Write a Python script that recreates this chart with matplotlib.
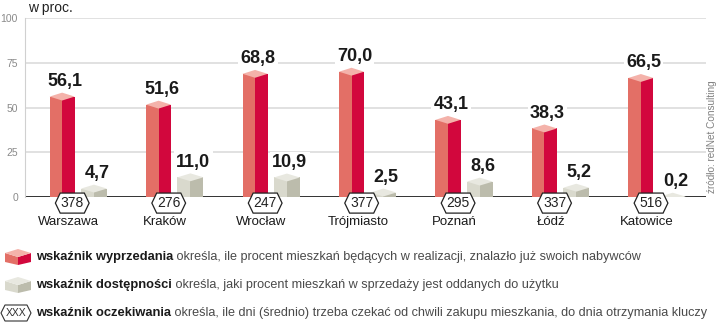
import numpy as np
import matplotlib
matplotlib.use('Agg')
import matplotlib.pyplot as plt
from matplotlib.patches import Polygon

# data
cities = ['Warszawa', 'Kraków', 'Wrocław', 'Trójmiasto', 'Poznań', 'Łódź', 'Katowice']
sold = [56.1, 51.6, 68.8, 70.0, 43.1, 38.3, 66.5]        # wskaźnik wyprzedania
ready = [4.7, 11.0, 10.9, 2.5, 8.6, 5.2, 0.2]            # wskaźnik dostępności
wait_days = [378, 276, 247, 377, 295, 337, 516]          # wskaźnik oczekiwania
yticks = [0, 25, 50, 75, 100]

plt.rcParams['font.family'] = ['Liberation Sans', 'DejaVu Sans']

RED_L, RED_R, RED_T = '#e36f66', '#d2073d', '#f4b2aa'
GRY_L, GRY_R, GRY_T = '#d9d9cd', '#bcbcac', '#e8e8e0'


def box(ax, xc, w, h, d, cl, cr, ct, z=3):
    x0, x1 = xc - w / 2, xc + w / 2
    ax.bar(xc - w / 4, h, width=w / 2, color=cl, zorder=z, linewidth=0)
    ax.bar(xc + w / 4, h, width=w / 2, color=cr, zorder=z, linewidth=0)
    ax.add_patch(Polygon([(x0, h), (xc, h - d), (x1, h), (xc, h + d)],
                         closed=True, facecolor=ct, edgecolor='none', zorder=z + 0.1))


def hexagon(ax, xc, yc, hw, hh, ins, **kw):
    pts = [(xc - hw, yc), (xc - hw + ins, yc + hh), (xc + hw - ins, yc + hh),
           (xc + hw, yc), (xc + hw - ins, yc - hh), (xc - hw + ins, yc - hh)]
    ax.add_patch(Polygon(pts, closed=True, **kw))


def main():
    fig = plt.figure(figsize=(7.2, 3.23), dpi=100)
    ax = fig.add_axes([25 / 720, 1 - 197 / 323, 681 / 720, 179 / 323])
    x = np.arange(len(cities))
    ax.set_xlim(-0.55, 6.51)
    ax.set_ylim(0, 100)

    # grid
    for t in yticks[1:]:
        ax.axhline(t, color='#dcdcdc', lw=1.2, zorder=1)
    ax.axhline(0, color='#222222', lw=1.3, zorder=2)
    for s in ['top', 'right', 'bottom']:
        ax.spines[s].set_visible(False)
    ax.spines['left'].set_color('#d0d0d0')
    ax.set_yticks(yticks)
    ax.set_yticklabels([str(t) for t in yticks], color='#8a8a8a', fontsize=7.5)
    ax.tick_params(axis='y', length=0, pad=5)
    ax.set_xticks([])

    d = 2.2
    for i in x:
        xr = i - 0.165
        xg = i + 0.165
        box(ax, xr, 0.26, sold[i], d, RED_L, RED_R, RED_T)
        box(ax, xg, 0.27, max(ready[i], 0.2), d, GRY_L, GRY_R, GRY_T)
        for xx, v in [(xr, sold[i]), (xg, ready[i])]:
            ax.annotate(f'{v:.1f}'.replace('.', ','), (xx + 0.03, v + d), xytext=(0, 2),
                        textcoords='offset points', ha='center', va='bottom',
                        fontsize=13, fontweight='bold', color='#1a1a1a', zorder=5,
                        bbox=dict(boxstyle='square,pad=0.12', fc='white', ec='none'))
        hexagon(ax, i - 0.06, -3.4, 0.175, 5.6, 0.05, facecolor='white',
                edgecolor='#222222', lw=0.9, zorder=6, clip_on=False)
        ax.text(i - 0.06, -3.6, str(wait_days[i]), ha='center', va='center',
                fontsize=10, color='#222222', zorder=7, clip_on=False)
        ax.text(i - 0.1, -14, cities[i], ha='center', va='center',
                fontsize=9.5, color='#1a1a1a', clip_on=False)

    # overlay in pixel coords for texts and legend
    ov = fig.add_axes([0, 0, 1, 1], zorder=-1)
    ov.set_xlim(0, 720)
    ov.set_ylim(323, 0)
    ov.axis('off')
    ov.text(28, 8, 'w proc.', fontsize=10, color='#222222', va='center')
    ov.text(712, 137, 'źródło: redNet Consulting', rotation=90, fontsize=7.2,
            color='#808080', ha='center', va='center')

    # legend icons
    def icon(cx, cy, cl, cr, ct):
        ov.add_patch(Polygon([(cx - 13, cy - 4), (cx, cy), (cx, cy + 8), (cx - 13, cy + 5)],
                             closed=True, fc=cl, ec='none'))
        ov.add_patch(Polygon([(cx, cy), (cx + 13, cy - 4), (cx + 13, cy + 5), (cx, cy + 8)],
                             closed=True, fc=cr, ec='none'))
        ov.add_patch(Polygon([(cx - 13, cy - 4), (cx, cy - 8), (cx + 13, cy - 4), (cx, cy)],
                             closed=True, fc=ct, ec='none'))

    icon(18, 257, RED_L, RED_R, RED_T)
    icon(18, 285, GRY_L, GRY_R, GRY_T)
    hexagon(ov, 16, 313, 15, 8, 4, facecolor='white', edgecolor='#333333', lw=0.8)
    ov.text(16, 313.5, 'XXX', fontsize=7.5, ha='center', va='center', color='#333333')

    legend = [
        (36, 257, 'wskaźnik wyprzedania',
         ' określa, ile procent mieszkań będących w realizacji, znalazło już swoich nabywców'),
        (36, 285, 'wskaźnik dostępności',
         ' określa, jaki procent mieszkań w sprzedaży jest oddanych do użytku'),
        (36, 313, 'wskaźnik oczekiwania',
         ' określa, ile dni (średnio) trzeba czekać od chwili zakupu mieszkania, do dnia otrzymania kluczy'),
    ]
    fig.canvas.draw()
    r = fig.canvas.get_renderer()
    for lx, ly, b, rest in legend:
        t = ov.text(lx, ly, b, fontsize=9.3, fontweight='bold', color='#1a1a1a', va='center')
        bb = t.get_window_extent(renderer=r)
        x_end = ov.transData.inverted().transform((bb.x1, bb.y0))[0]
        ov.text(x_end, ly, rest, fontsize=9.1, color='#4a4a4a', va='center')

    fig.savefig('out.png', dpi=100)


if __name__ == '__main__':
    main()
